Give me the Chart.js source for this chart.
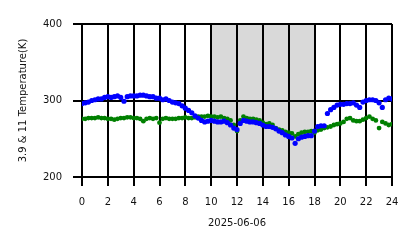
<!DOCTYPE html>
<html lang="en">
<head>
    <meta charset="UTF-8">
    <title>3.9 & 11 Temperature</title>
    <script src="https://cdn.jsdelivr.net/npm/chart.js"></script>
    <style>
        body { margin: 0; background: #fff; }
    </style>
</head>
<body>
    <canvas id="myChart" width="418" height="248"></canvas>
    <script>
        // hours of the day (2025-06-06)
        const hours = [
            0, 0.25, 0.5, 0.75, 1, 1.25, 1.5, 1.75, 2, 2.25, 2.5, 2.75,
            3, 3.25, 3.5, 3.75, 4, 4.25, 4.5, 4.75, 5, 5.25, 5.5, 5.75,
            6, 6.25, 6.5, 6.75, 7, 7.25, 7.5, 7.75, 8, 8.25, 8.5, 8.75,
            9, 9.25, 9.5, 9.75, 10, 10.25, 10.5, 10.75, 11, 11.25, 11.5, 11.75,
            12, 12.25, 12.5, 12.75, 13, 13.25, 13.5, 13.75, 14, 14.25, 14.5, 14.75,
            15, 15.25, 15.5, 15.75, 16, 16.25, 16.5, 16.75, 17, 17.25, 17.5, 17.75,
            18, 18.25, 18.5, 18.75, 19, 19.25, 19.5, 19.75, 20, 20.25, 20.5, 20.75,
            21, 21.25, 21.5, 21.75, 22, 22.25, 22.5, 22.75, 23, 23.25, 23.5, 23.75, 24
        ];

        // 3.9 um brightness temperature (blue)
        const temp39 = [
            296, 297, 298, 300, 301, 302, 302, 304, 305, 304, 305, 306,
            304, 299, 305, 306, 306, 306, 307, 307, 306, 305, 305, 303,
            303, 301, 302, 300, 298, 297, 296, 293, 290, 287, 284, 280,
            277, 274, 272, 273, 274, 273, 272, 272, 273, 271, 268, 264,
            262, 270, 274, 273, 272, 272, 271, 270, 268, 266, 266, 265,
            263, 260, 258, 255, 253, 251, 244, 250, 252, 253, 254, 254,
            260, 266, 267, 267, 283, 288, 291, 294, 295, 295, 296, 296,
            297, 294, 291, 298, 300, 301, 301, 300, 297, 291, 301, 303, 302
        ];

        // 11 um brightness temperature (green)
        const temp11 = [
            276, 276, 277, 277, 277, 278, 277, 277, 276, 276, 275, 276,
            277, 277, 278, 278, 277, 277, 276, 273, 276, 277, 276, 277,
            271, 276, 277, 276, 276, 276, 277, 277, 278, 277, 277, 278,
            279, 279, 279, 280, 279, 279, 278, 279, 277, 276, 274, 268,
            260, 274, 279, 277, 276, 276, 275, 274, 271, 269, 270, 268,
            264, 262, 261, 259, 258, 257, 253, 256, 258, 259, 259, 260,
            258, 261, 262, 264, 265, 266, 268, 269, 270, 272, 276, 277,
            274, 273, 273, 275, 277, 279, 276, 274, 264, 272, 270, 268, 269
        ];

        const xTicks = [0, 2, 4, 6, 8, 10, 12, 14, 16, 18, 20, 22, 24];
        const yTicks = [200, 300, 400];
        const shadeFrom = 10;
        const shadeTo = 18;

        const toPoints = (vals) => vals.map((v, i) => ({ x: hours[i], y: v }));

        // gray band behind the grid
        const shade = {
            id: 'shade',
            beforeDraw(chart) {
                const { ctx, chartArea, scales } = chart;
                const x1 = scales.x.getPixelForValue(shadeFrom);
                const x2 = scales.x.getPixelForValue(shadeTo);
                ctx.save();
                ctx.fillStyle = '#d9d9d9';
                ctx.fillRect(x1, chartArea.top, x2 - x1, chartArea.bottom - chartArea.top);
                ctx.restore();
            }
        };

        const font = { family: 'DejaVu Sans', size: 10 };

        const ctx = document.getElementById('myChart').getContext('2d');
        const myChart = new Chart(ctx, {
            type: 'scatter',
            data: {
                datasets: [{
                    label: '3.9',
                    data: toPoints(temp39),
                    backgroundColor: '#0000ff',
                    borderColor: '#0000ff',
                    pointRadius: 2.6,
                    pointBorderWidth: 0
                }, {
                    label: '11',
                    data: toPoints(temp11),
                    backgroundColor: '#008000',
                    borderColor: '#008000',
                    pointRadius: 2.4,
                    pointBorderWidth: 0
                }]
            },
            options: {
                responsive: false,
                animation: false,
                layout: { padding: { top: 24, right: 26, left: 0, bottom: 0 } },
                plugins: { legend: { display: false }, tooltip: { enabled: false } },
                scales: {
                    x: {
                        type: 'linear',
                        min: 0,
                        max: 24,
                        afterBuildTicks: (s) => { s.ticks = xTicks.map(v => ({ value: v })); },
                        afterFit: (s) => { s.height = 71; },
                        grid: { color: '#000', lineWidth: 2, tickLength: 9 },
                        border: { color: '#000', width: 2 },
                        ticks: { font: font, color: '#111', padding: 10, maxRotation: 0 },
                        title: { display: true, text: '2025-06-06', font: font, color: '#111', padding: { top: 0, bottom: 19 } }
                    },
                    y: {
                        min: 200,
                        max: 400,
                        afterBuildTicks: (s) => { s.ticks = yTicks.map(v => ({ value: v })); },
                        afterFit: (s) => { s.width = 82; },
                        grid: { color: '#000', lineWidth: 2, tickLength: 9 },
                        border: { color: '#000', width: 2 },
                        ticks: { font: font, color: '#111', padding: 11 },
                        title: { display: true, text: '3.9 & 11 Temperature(K)', font: font, color: '#111', padding: { top: 17, bottom: 0 } }
                    }
                }
            },
            plugins: [shade]
        });
    </script>
</body>
</html>
